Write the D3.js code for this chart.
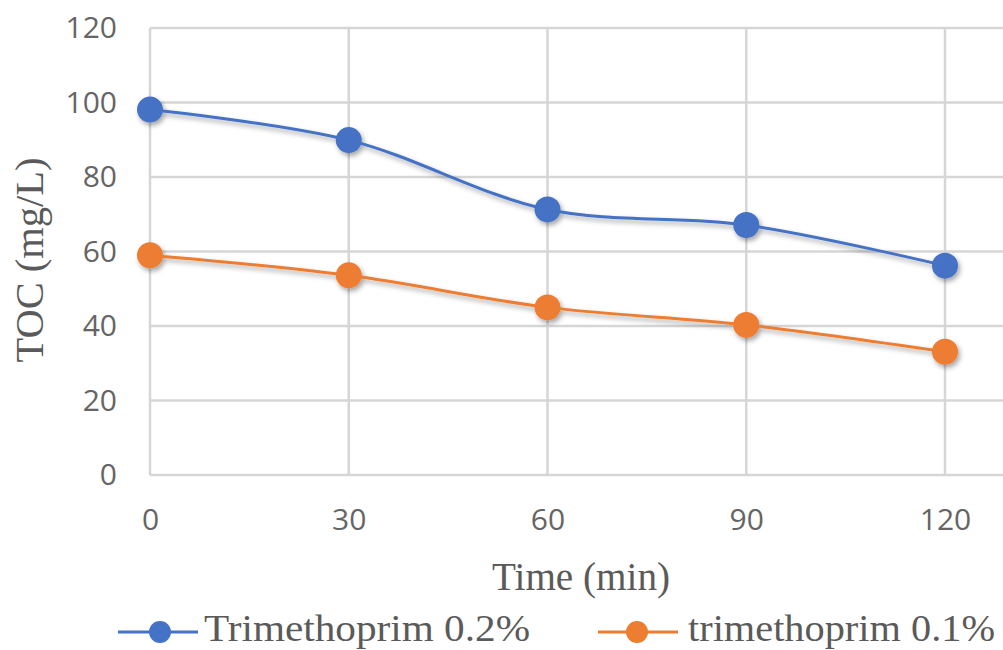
<!DOCTYPE html>
<html>
<head>
<meta charset="utf-8">
<script src="https://cdn.jsdelivr.net/npm/d3@7"></script>
<style>
  html, body { margin: 0; padding: 0; background: #ffffff; }
  svg { display: block; }
</style>
</head>
<body>
<svg id="chart" width="1003" height="650"></svg>
<script>
// Sampling times (min)
const times = [0, 30, 60, 90, 120];
// TOC (mg/L) for each formulation
const seriesNames = ["Trimethoprim  0.2%", "trimethoprim  0.1%"];
const highDose = [98.1, 89.9, 71.3, 67.1, 56.2];
const lowDose = [59.0, 53.6, 45.0, 40.3, 33.1];
const seriesColors = ["#4472C4", "#ED7D31"];
const yTicks = [0, 20, 40, 60, 80, 100, 120];
const xTicks = [0, 30, 60, 90, 120];

const svg = d3.select("#chart");
const W = 1003, H = 650;
svg.append("rect").attr("width", W).attr("height", H).attr("fill", "#fff");

const x = d3.scaleLinear().domain([0, 120]).range([150, 945]);
const y = d3.scaleLinear().domain([0, 120]).range([475, 28]);

const defs = svg.append("defs");
const f = defs.append("filter").attr("id", "shadow")
  .attr("x", "-50%").attr("y", "-50%").attr("width", "200%").attr("height", "200%");
f.append("feDropShadow").attr("dx", 2).attr("dy", 3).attr("stdDeviation", 2.5)
  .attr("flood-color", "#000").attr("flood-opacity", 0.35);

const grid = "#d6d6d6";
// horizontal gridlines (run to the right edge)
svg.append("g").selectAll("line").data(yTicks).join("line")
  .attr("x1", x(0)).attr("x2", W)
  .attr("y1", d => y(d)).attr("y2", d => y(d))
  .attr("stroke", grid).attr("stroke-width", 2.5);
// vertical gridlines
svg.append("g").selectAll("line").data(xTicks).join("line")
  .attr("x1", d => x(d)).attr("x2", d => x(d))
  .attr("y1", y(120)).attr("y2", y(0))
  .attr("stroke", grid).attr("stroke-width", 2.5);

// axes (labels only; grid drawn above)
const tickFont = "'Open Sans', sans-serif";
const yAxis = svg.append("g").attr("transform", `translate(${x(0)},0)`)
  .call(d3.axisLeft(y).tickValues(yTicks).tickSize(0).tickPadding(33));
const xAxis = svg.append("g").attr("transform", `translate(0,${y(0)})`)
  .call(d3.axisBottom(x).tickValues(xTicks).tickSize(0).tickPadding(34));
[yAxis, xAxis].forEach(a => {
  a.select(".domain").remove();
  a.selectAll("text").attr("font-family", tickFont).attr("font-size", 30)
    .attr("fill", "#656565");
});

// series lines and markers
const line = d3.line()
  .x((d, i) => x(times[i]))
  .y(d => y(d))
  .curve(d3.curveCatmullRom.alpha(0.5));

[highDose, lowDose].forEach((vals, s) => {
  const g = svg.append("g").attr("filter", "url(#shadow)");
  g.append("path").datum(vals).attr("d", line)
    .attr("fill", "none").attr("stroke", seriesColors[s]).attr("stroke-width", 3);
  g.selectAll("circle").data(vals).join("circle")
    .attr("cx", (d, i) => x(times[i])).attr("cy", d => y(d)).attr("r", 13)
    .attr("fill", seriesColors[s]);
});

const serif = "'Liberation Serif', 'Times New Roman', serif";
const txtColor = "#5a5a5a";

// axis titles
svg.append("text").attr("x", 581).attr("y", 590).attr("text-anchor", "middle")
  .attr("font-family", serif).attr("font-size", 40).attr("fill", txtColor)
  .attr("textLength", 178).attr("lengthAdjust", "spacingAndGlyphs")
  .text("Time (min)");
svg.append("text").attr("transform", "translate(43,260) rotate(-90)")
  .attr("text-anchor", "middle")
  .attr("font-family", serif).attr("font-size", 40).attr("fill", txtColor)
  .attr("textLength", 205).attr("lengthAdjust", "spacingAndGlyphs")
  .text("TOC (mg/L)");

// legend
const legendItems = [
  { x1: 118, x2: 198, cx: 160, tx: 204, tw: 326 },
  { x1: 598, x2: 678, cx: 637, tx: 688, tw: 307 }
];
legendItems.forEach((it, s) => {
  const g = svg.append("g");
  g.append("line").attr("x1", it.x1).attr("x2", it.x2).attr("y1", 632).attr("y2", 632)
    .attr("stroke", seriesColors[s]).attr("stroke-width", 3);
  g.append("circle").attr("cx", it.cx).attr("cy", 632).attr("r", 11)
    .attr("fill", seriesColors[s]);
  g.append("text").attr("x", it.tx).attr("y", 641)
    .attr("font-family", serif).attr("font-size", 38).attr("fill", txtColor)
    .attr("textLength", it.tw).attr("lengthAdjust", "spacingAndGlyphs")
    .text(seriesNames[s]);
});
</script>
</body>
</html>
